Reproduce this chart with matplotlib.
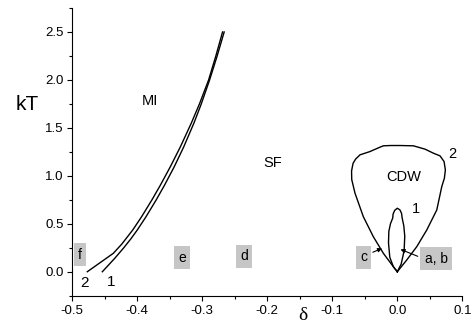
import matplotlib
matplotlib.use('Agg')
import matplotlib.pyplot as plt
from matplotlib.ticker import MultipleLocator

plt.rcParams['font.family'] = ['Liberation Sans', 'DejaVu Sans']

# MI boundary, curve 1 and curve 2
mi1_x = [-0.4534, -0.4343, -0.4204, -0.4093, -0.3997, -0.3862, -0.3705, -0.3580,
         -0.3427, -0.3284, -0.3126, -0.3013, -0.2885, -0.2769, -0.2661]
mi1_y = [0.0, 0.14, 0.25, 0.345, 0.435, 0.574, 0.75, 0.90,
         1.097, 1.30, 1.55, 1.75, 2.0, 2.25, 2.5]
mi2_x = [-0.4765, -0.4365, -0.4233, -0.4067, -0.3930, -0.3771, -0.3644,
         -0.3487, -0.3336, -0.3166, -0.3041, -0.2900, -0.2789, -0.2686]
mi2_y = [0.0, 0.192, 0.29, 0.435, 0.574, 0.75, 0.90,
         1.097, 1.30, 1.55, 1.75, 2.0, 2.25, 2.5]

# CDW boundary, curve 2 (outer)
cdw2_x = [0.0, -0.006, -0.0214, -0.0368, -0.0522, -0.065, -0.0700, -0.0703, -0.0680,
          -0.0640, -0.0573, -0.042, -0.0265, -0.0214, -0.010, 0.0042, 0.0247, 0.0427,
          0.0555, 0.0657, 0.0719, 0.0739, 0.0724, 0.0684, 0.0607, 0.0453, 0.0299, 0.0145, 0.0]
cdw2_y = [0.0, 0.052, 0.192, 0.365, 0.574, 0.819, 0.96, 1.05, 1.13,
          1.175, 1.219, 1.253, 1.299, 1.313, 1.316, 1.316, 1.313, 1.278,
          1.236, 1.208, 1.149, 1.062, 0.975, 0.888, 0.644, 0.435, 0.261, 0.122, 0.0]

# CDW boundary, curve 1 (inner)
cdw1_x = [0.0, -0.006, -0.0115, -0.0135, -0.013, -0.0105, -0.007, -0.0065, -0.004, 0.0,
          0.004, 0.0065, 0.0075, 0.010, 0.0115, 0.0105, 0.006, 0.0]
cdw1_y = [0.0, 0.052, 0.15, 0.30, 0.42, 0.50, 0.56, 0.60, 0.64, 0.662,
          0.645, 0.61, 0.56, 0.48, 0.37, 0.22, 0.08, 0.0]

# region names
regions = ['MI', 'SF', 'CDW']
region_x = [-0.380, -0.191, 0.010]
region_y = [1.78, 1.13, 0.99]

# curve numbers
num_labels = ['2', '1', '2', '1']
num_x = [-0.4815, -0.440, 0.084, 0.029]
num_y = [-0.115, -0.105, 1.23, 0.65]
num_size = [11, 11, 10.5, 10.5]

# grey point markers
boxes = ['f', 'e', 'd', 'c', 'a, b']
box_x = [-0.4877, -0.331, -0.236, -0.052, 0.0597]
box_y = [0.178, 0.147, 0.16, 0.15, 0.137]

fig = plt.figure(figsize=(4.76, 3.33), dpi=100)
ax = fig.add_axes([0.1513, 0.112, 0.82, 0.864])

ax.plot(mi1_x, mi1_y, color='black', lw=1.0)
ax.plot(mi2_x, mi2_y, color='black', lw=1.0)
ax.plot(cdw2_x, cdw2_y, color='black', lw=1.0)
ax.plot(cdw1_x, cdw1_y, color='black', lw=1.0)

for name, x, y in zip(regions, region_x, region_y):
    ax.text(x, y, name, fontsize=10.5, ha='center', va='center')

for s, x, y, fs in zip(num_labels, num_x, num_y, num_size):
    ax.text(x, y, s, fontsize=fs, ha='center', va='center')

for s, x, y in zip(boxes, box_x, box_y):
    ax.text(x, y, s, fontsize=10, ha='center', va='center',
            bbox=dict(boxstyle='square,pad=0.3', fc='#c6c6c6', ec='none'))

# arrows from c and a, b
ax.annotate('', xy=(-0.0195, 0.255), xytext=(-0.0415, 0.192),
            arrowprops=dict(arrowstyle='-|>', color='black', lw=0.8, mutation_scale=6))
ax.annotate('', xy=(0.001, 0.244), xytext=(0.0354, 0.15),
            arrowprops=dict(arrowstyle='-|>', color='black', lw=0.8, mutation_scale=6))

ax.set_xlim(-0.5, 0.1)
ax.set_ylim(-0.25, 2.75)
ax.xaxis.set_minor_locator(MultipleLocator(0.05))
ax.yaxis.set_minor_locator(MultipleLocator(0.25))
ax.set_yticks([0.0, 0.5, 1.0, 1.5, 2.0, 2.5])
ax.set_xticks([-0.5, -0.4, -0.3, -0.2, -0.1, 0.0, 0.1])
ax.set_xticklabels(['-0.5', '-0.4', '-0.3', '-0.2', '-0.1', '0.0', '0.1'])
ax.tick_params(which='major', direction='out', length=3.6, width=0.8, labelsize=9.5)
ax.tick_params(axis='x', which='major', pad=3.2)
ax.tick_params(axis='y', which='major', pad=2.6)
ax.tick_params(which='minor', direction='out', length=2.2, width=0.8)
ax.spines['top'].set_visible(False)
ax.spines['right'].set_visible(False)

fig.text(27.5 / 476, 1 - 105 / 333, 'kT', fontsize=15, ha='center', va='center')
fig.text(303 / 476, 1 - 316 / 333, 'δ', fontsize=14, ha='center', va='center',
         family=['Liberation Serif', 'DejaVu Serif'])

fig.savefig('out.png', dpi=100)
